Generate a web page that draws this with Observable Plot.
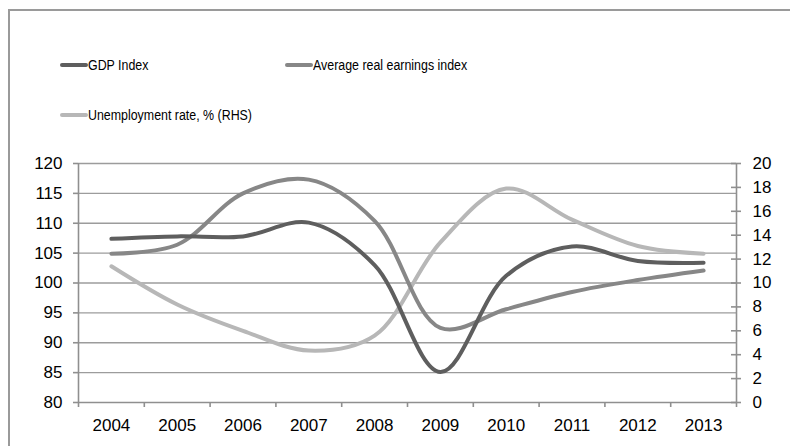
<!DOCTYPE html>
<html>
<head>
<meta charset="utf-8">
<script src="https://cdn.jsdelivr.net/npm/d3@7"></script>
<script src="https://cdn.jsdelivr.net/npm/@observablehq/plot@0.6"></script>
<style>
  html, body { margin: 0; padding: 0; background: #fff; }
  #wrap { position: relative; width: 790px; height: 446px; overflow: hidden; font-family: "Liberation Sans", Arial, sans-serif; color: #000; }
  #frame { position: absolute; left: 8px; top: 9px; width: 800px; height: 460px; border-left: 2px solid #9a9a9a; border-top: 2px solid #9a9a9a; }
  .swatch { position: absolute; width: 28px; height: 4px; border-radius: 2px; }
  .label { position: absolute; font-size: 15.5px; line-height: 18px; white-space: nowrap; transform: scaleX(0.8); transform-origin: left center; }
  #chart { position: absolute; left: 0; top: 140px; }
</style>
</head>
<body>
<div id="wrap">
  <div id="frame"></div>
  <div id="legend"></div>
  <div id="chart"></div>
</div>
<script>
// Annual series
const years = [2004, 2005, 2006, 2007, 2008, 2009, 2010, 2011, 2012, 2013];
const gdpIndex = [107.4, 107.8, 107.8, 110.1, 103.0, 85.1, 101.2, 106.1, 103.7, 103.4];
const earningsIndex = [104.9, 106.4, 115.0, 117.3, 110.4, 92.5, 95.6, 98.5, 100.5, 102.1];
const unemploymentRate = [11.4, 8.2, 6.0, 4.35, 5.6, 13.4, 17.9, 15.3, 13.1, 12.45];

// Axis ticks
const leftTicks = [80, 85, 90, 95, 100, 105, 110, 115, 120];
const rightTicks = [0, 2, 4, 6, 8, 10, 12, 14, 16, 18, 20];

const seriesNames = ["GDP Index", "Average real earnings index", "Unemployment rate, % (RHS)"];
const seriesColors = ["#5e5e5e", "#878787", "#b7b7b7"];

// Right-hand axis (0–20 %) shares the left scale (80–120): index = 80 + 2·rate
const toLeft = r => 80 + 2 * r;
const fromLeft = v => (v - 80) / 2;

const rows = years.map((year, i) => ({
  year,
  gdp: gdpIndex[i],
  earnings: earningsIndex[i],
  unemployment: unemploymentRate[i]
}));

const xMin = years[0] - 0.5;
const xMax = years[years.length - 1] + 0.5;
const boundaries = d3.range(xMin, xMax + 0.01, 1);
const axisGray = "#8f8f8f";

const chart = Plot.plot({
  width: 790,
  height: 306,
  marginTop: 23,
  marginBottom: 44,
  marginLeft: 78,
  marginRight: 54,
  style: { fontFamily: "'Liberation Sans', Arial, sans-serif", fontSize: "17px", color: "#000", background: "transparent", overflow: "visible" },
  x: { domain: [xMin, xMax], axis: null },
  y: { domain: [80, 120], axis: null },
  marks: [
    // horizontal gridlines
    Plot.ruleY(leftTicks.slice(1), { stroke: "#9c9c9c", strokeWidth: 1.3 }),
    // axis lines
    Plot.ruleY([80], { stroke: axisGray, strokeWidth: 1.6 }),
    Plot.ruleX([xMin, xMax], { y1: 80, y2: 120, stroke: axisGray, strokeWidth: 1.6 }),
    // left axis
    Plot.axisY({ ticks: leftTicks, tickSize: 5, tickPadding: 11, stroke: axisGray, strokeWidth: 1.6, tickFormat: d => String(d), label: null }),
    // right axis: crossing tick marks and labels
    Plot.ruleY(rightTicks, { y: toLeft, x1: xMax, x2: xMax, insetLeft: -5, insetRight: -5, stroke: axisGray, strokeWidth: 1.6 }),
    Plot.axisY({ anchor: "right", ticks: rightTicks.map(toLeft), tickSize: 0, tickPadding: 16, tickFormat: v => String(fromLeft(v)), label: null }),
    // x axis: tick marks between years, labels centred on years
    Plot.axisX({ ticks: boundaries, tickSize: 5, stroke: axisGray, strokeWidth: 1.6, fill: "none", label: null }),
    Plot.axisX({ ticks: years, tickSize: 0, tickPadding: 16, tickFormat: d => String(d), label: null }),
    // series
    Plot.line(rows, { x: "year", y: d => toLeft(d.unemployment), stroke: seriesColors[2], strokeWidth: 4, curve: "catmull-rom" }),
    Plot.line(rows, { x: "year", y: "earnings", stroke: seriesColors[1], strokeWidth: 4, curve: "catmull-rom" }),
    Plot.line(rows, { x: "year", y: "gdp", stroke: seriesColors[0], strokeWidth: 4, curve: "catmull-rom" })
  ]
});
document.getElementById("chart").appendChild(chart);

// Legend
const legendPos = [
  { left: 60, top: 65 },
  { left: 285, top: 65 },
  { left: 60, top: 115 }
];
const legend = document.getElementById("legend");
seriesNames.forEach((name, i) => {
  const sw = document.createElement("div");
  sw.className = "swatch";
  sw.style.left = legendPos[i].left + "px";
  sw.style.top = (legendPos[i].top - 2) + "px";
  sw.style.background = seriesColors[i];
  legend.appendChild(sw);
  const lb = document.createElement("div");
  lb.className = "label";
  lb.style.left = (legendPos[i].left + 28) + "px";
  lb.style.top = (legendPos[i].top - 9) + "px";
  lb.textContent = name;
  legend.appendChild(lb);
});
</script>
</body>
</html>
